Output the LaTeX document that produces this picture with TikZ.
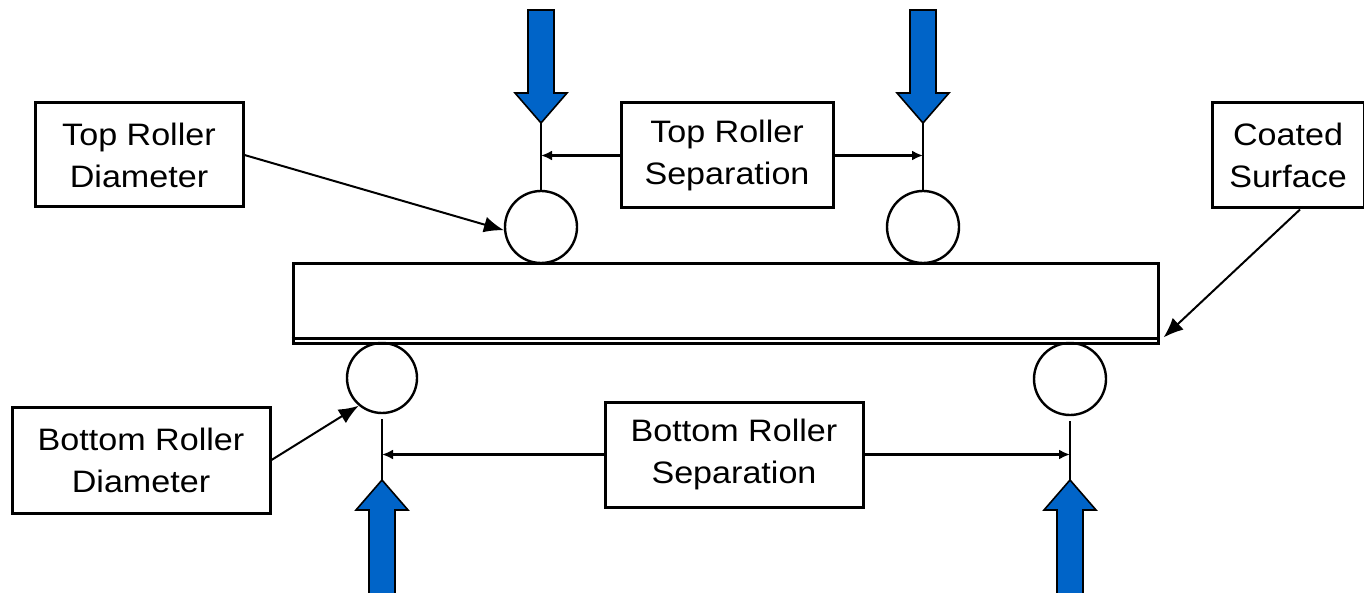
\documentclass[tikz,border=0pt]{standalone}
\usepackage{fontspec}
\setmainfont{Liberation Sans}[FakeStretch=1.1]
\usetikzlibrary{arrows.meta}
\definecolor{forceblue}{RGB}{0,100,200}
\begin{document}
\begin{tikzpicture}[x=1pt,y=-1pt,
  label box/.style={draw, line width=3pt, align=center, inner sep=0pt,
     font=\fontsize{31}{42}\selectfont},
  roller/.style={draw, circle, line width=2.4pt, inner sep=0pt},
  beambox/.style={draw, line width=3pt, inner sep=0pt},
  dimline/.style={line width=2.4pt, -{Latex[length=11pt,width=10pt]}},
  leader/.style={line width=2pt, -{Latex[length=20pt,width=16pt]}},
  stem/.style={line width=2.8pt},
  blockarrow/.style={fill=forceblue, draw=black, line width=1.6pt, line join=miter}]
\useasboundingbox (0,0) rectangle (1364,593);
\clip (0,0) rectangle (1364,593);

% beam
\node[beambox, minimum width=865pt, minimum height=79pt] (beam) at (725.5,303.5) {};
\draw[line width=2.8pt] ([yshift=6pt]beam.south west) -- ([yshift=6pt]beam.south east);

% rollers
\node[roller, minimum size=72pt] (r1) at (541,227) {};
\node[roller, minimum size=72pt] (r2) at (923,227) {};
\node[roller, minimum size=70pt] (r3) at (382,378) {};
\node[roller, minimum size=72pt] (r4) at (1070,379) {};

% arrow tips of the force arrows
\coordinate (t1) at (541,123);
\coordinate (t2) at (923,123);
\coordinate (b1) at (382,480);
\coordinate (b2) at (1070,480);

% force arrows
\draw[blockarrow] (t1) -- ++(-26,-30) -- ++(13,0) -- ++(0,-83) -- ++(26,0) -- ++(0,83) -- ++(13,0) -- cycle;
\draw[blockarrow] (t2) -- ++(-26,-30) -- ++(13,0) -- ++(0,-83) -- ++(26,0) -- ++(0,83) -- ++(13,0) -- cycle;
\draw[blockarrow] (b1) -- ++(-26,30) -- ++(13,0) -- ++(0,100) -- ++(26,0) -- ++(0,-100) -- ++(13,0) -- cycle;
\draw[blockarrow] (b2) -- ++(-26,30) -- ++(13,0) -- ++(0,100) -- ++(26,0) -- ++(0,-100) -- ++(13,0) -- cycle;

% stems
\draw[stem] (t1) -- (r1.north);
\draw[stem] (t2) -- (r2.north);
\draw[stem] (r3.south) ++(0,5) -- (b1);
\draw[stem] (r4.south) ++(0,5) -- (b2);

% labels
\node[label box, minimum width=208pt, minimum height=104pt] (trd) at (139,155) {Top Roller\\Diameter};
\node[label box, minimum width=212pt, minimum height=105pt] (trs) at (727,155.5) {Top Roller\\Separation};
\node[label box, minimum width=152pt, minimum height=105pt] (cs) at (1288,155.5) {Coated\\Surface};
\node[label box, minimum width=258pt, minimum height=106pt] (brd) at (141,460) {Bottom Roller\\Diameter};
\node[label box, minimum width=258pt, minimum height=105pt] (brs) at (734,454.5) {Bottom Roller\\Separation};

% dimension lines
\draw[dimline] (trs.west) -- (trs.west -| t1);
\draw[dimline] (trs.east) -- (trs.east -| t2);
\draw[dimline] (brs.west) -- (brs.west -| b1);
\draw[dimline] (brs.east) -- (brs.east -| b2);

% leaders
\draw[leader] (trd.east) -- (r1.185);
\draw[leader] ([xshift=12pt]cs.south) -- ([xshift=4pt,yshift=7pt]beam.south east);
\draw[leader] (brd.east) -- (r3.230);
\end{tikzpicture}
\end{document}
